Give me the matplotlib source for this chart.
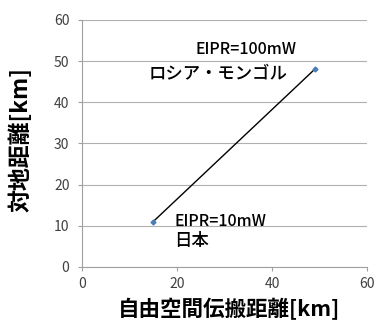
import matplotlib
matplotlib.use("Agg")
import matplotlib.pyplot as plt

plt.rcParams["font.family"] = ["Noto Sans CJK JP", "DejaVu Sans"]

# data
free_space_km = [15, 49]
ground_km = [11, 48]
x_ticks = [0, 20, 40, 60]
y_ticks = [0, 10, 20, 30, 40, 50, 60]

fig = plt.figure(figsize=(3.76, 3.2), dpi=100)
ax = fig.add_axes([0.218, 0.166, 0.758, 0.772])

ax.plot(free_space_km, ground_km, color="black", linewidth=1.0,
        marker="D", markersize=2.5, markerfacecolor="#4a7ebb",
        markeredgecolor="#4a7ebb", zorder=3)

ax.set_xlim(0, 60)
ax.set_ylim(0, 60)
ax.set_xticks(x_ticks)
ax.set_yticks(y_ticks)
ax.grid(axis="y", color="#b0b0b0", linewidth=0.8)
ax.set_axisbelow(True)

for s in ["top", "right"]:
    ax.spines[s].set_visible(False)
for s in ["left", "bottom"]:
    ax.spines[s].set_color("#a0a0a0")
ax.tick_params(colors="#a0a0a0", labelcolor="#404040", labelsize=10, length=3)
ax.tick_params(axis="y", pad=6)
ax.tick_params(axis="x", pad=4)

ax.text(23.8, 52.7, "EIPR=100mW", fontsize=11.5, ha="left", va="center", fontweight="medium")
ax.text(14, 47.1, "ロシア・モンゴル", fontsize=12.5, ha="left", va="center", fontweight="medium")
ax.text(19.4, 11.0, "EIPR=10mW", fontsize=11.5, ha="left", va="center", fontweight="medium")
ax.text(19.4, 6.3, "日本", fontsize=12.5, ha="left", va="center", fontweight="medium")

# axis titles placed in figure coords
fig.text(0.609, 0.034, "自由空間伝搬距離[km]", fontsize=15.5, fontweight="bold",
         ha="center", va="center")
fig.text(0.055, 0.5625, "対地距離[km]", fontsize=16.5, fontweight="bold",
         ha="center", va="center", rotation=90)

fig.savefig("out.png", dpi=100)
